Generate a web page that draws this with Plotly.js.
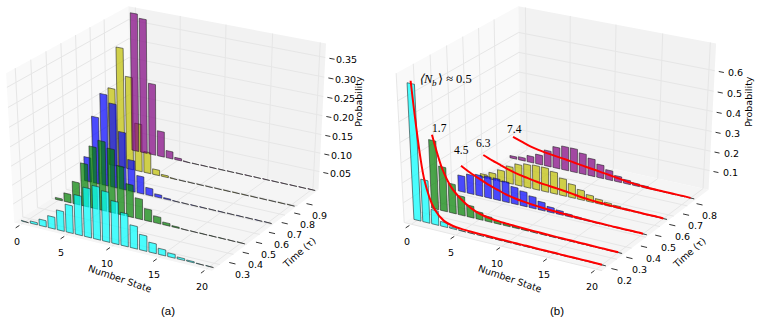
<!DOCTYPE html>
<html>
<head>
<meta charset="utf-8">
<script src="https://cdn.plot.ly/plotly-3.0.1.min.js"></script>
<style>html,body{margin:0;padding:0;background:#fff}</style>
</head>
<body>
<div id="chart" style="width:761px;height:322px"></div>
<script>
var nStates = [0,1,2,3,4,5,6,7,8,9,10,11,12,13,14,15,16,17,18,19,20];
var xTicks = [0,5,10,15,20];
var colorsA = ['rgba(191,191,0,.7)','rgba(128,0,128,.7)','rgba(0,0,255,.7)','rgba(0,128,0,.7)','rgba(0,255,255,.7)'];
var colorsB = ['rgba(128,0,128,.7)','rgba(191,191,0,.7)','rgba(0,0,255,.7)','rgba(0,128,0,.7)','rgba(0,255,255,.7)'];

// panel (a), back row first. yellow goes under purple here
var timesA = [0.892,1.063,0.708,0.50,0.267];
var yellowA = [.21,.322,.25,.13,.058,.015,.005,.002,.001,.001,.001,.001,.001,.001,.001,.001,.001,.001,.001,.001,.001];
var purpleA = [.372,.362,.195,.07,.02,.006,.002,.001,.001,.001,.001,.001,.001,.001,.001,.001,.001,.001,.001,.001,.001];
var blueA   = [.066,.18,.245,.225,.155,.085,.047,.02,.008,.003,.001,.001,.001,.001,.001,.001,.001,.001,.001,.001,.001];
var greenA  = [.005,.023,.06,.115,.165,.185,.17,.13,.087,.055,.032,.018,.007,.003,.001,.001,.001,.001,.001,.001,.001];
var cyanA   = [.002,.006,.017,.032,.053,.074,.105,.13,.14,.132,.112,.087,.06,.041,.026,.016,.01,.005,.003,.001,.001];
var yTicksA = [.3,.4,.5,.6,.7,.8,.9];
var zTicksA = [.05,.1,.15,.2,.25,.3,.35];

// panel (b), back row first
var timesB = [.865,.664,.519,.348,.238];
var purpleB = [.012,.016,.033,.05,.082,.11,.123,.123,.107,.09,.069,.05,.03,.02,.013,.01,.005,.003,.002,.001,.001];
var yellowB = [.017,.034,.058,.088,.109,.12,.124,.124,.112,.088,.069,.05,.034,.023,.016,.011,.007,.004,.002,.001,.001];
var blueB   = [.083,.098,.107,.11,.11,.105,.087,.075,.06,.043,.027,.02,.013,.009,.006,.004,.003,.002,.001,.001,.001];
var greenB  = [.347,.225,.15,.098,.06,.038,.026,.014,.009,.006,.004,.003,.002,.001,.001,.001,.001,.001,.001,.001,.001];
var cyanB   = [.672,.215,.073,.023,.007,.003,.001,.001,.001,.001,.001,.001,.001,.001,.001,.001,.001,.001,.001,.001,.001];
var fitPurple = [.115,.1,.085,.075,.068,.062,.057,.05,.044,.038,.032,.026,.019,.012,.008,.005,.003,.003,.002,.002,.001];
var fitYellow = [.118,.1,.085,.07,.058,.05,.042,.036,.032,.027,.021,.014,.01,.007,.005,.004,.003,.003,.002,.002,.001];
var fitBlue   = [.135,.11,.09,.07,.055,.04,.03,.023,.018,.014,.011,.009,.007,.005,.004,.003,.003,.002,.002,.002,.001];
var fitGreen  = [.375,.215,.128,.082,.05,.03,.02,.015,.012,.01,.008,.007,.006,.005,.004,.004,.003,.003,.002,.002,.002];
var fitCyan   = [.685,.215,.078,.03,.015,.01,.008,.007,.006,.005,.005,.004,.004,.003,.003,.003,.002,.002,.002,.002,.001];
var fitLabels = ['7.4','6.3','4.5','1.7',''];
var yTicksB = [.2,.3,.4,.5,.6,.7,.8];
var zTicksB = [.1,.2,.3,.4,.5,.6];

var DEG = Math.PI/180, EL = 30*DEG, AZ = -60*DEG, DIST = 10;
var nv = [Math.cos(EL)*Math.cos(AZ), Math.cos(EL)*Math.sin(AZ), Math.sin(EL)];
var uv = [-nv[1]/Math.hypot(nv[0],nv[1]), nv[0]/Math.hypot(nv[0],nv[1]), 0];
var vv = [nv[1]*uv[2]-nv[2]*uv[1], nv[2]*uv[0]-nv[0]*uv[2], nv[0]*uv[1]-nv[1]*uv[0]];

// box coords (0..1) to the flat plane, same maths as a 3d axes with dist=10
function flat(b) {
  var q = [b[0]-.5,b[1]-.5,b[2]-.5];
  var w = DIST-(nv[0]*q[0]+nv[1]*q[1]+nv[2]*q[2]);
  return [(uv[0]*q[0]+uv[1]*q[1]+uv[2]*q[2])/w, (vv[0]*q[0]+vv[1]*q[1]+vv[2]*q[2])/w];
}

var data = [], annotations = [];

function addPanel(p) {
  var xa = p.xa, ya = p.ya;
  function box(x,y,z){ return [(x-p.xlim[0])/(p.xlim[1]-p.xlim[0]),(y-p.ylim[0])/(p.ylim[1]-p.ylim[0]),z/p.zmax]; }
  function poly(pts,fill,line,width) {
    var xs=[],ys=[];
    pts.forEach(function(b){ if(!b){xs.push(null);ys.push(null);return;} var f=flat(b); xs.push(f[0]);ys.push(f[1]); });
    var t={type:'scatter',mode:'lines',x:xs,y:ys,xaxis:xa,yaxis:ya,hoverinfo:'skip',showlegend:false,
      line:{color:line||'rgba(0,0,0,0)',width:width||0}};
    if(fill){t.fill='toself';t.fillcolor=fill;}
    data.push(t);
  }
  function text(b,str,dx,dy,font,angle) {
    var f=flat(b);
    annotations.push({x:f[0],y:f[1],xref:xa,yref:ya,text:str,showarrow:false,xshift:dx,yshift:-dy,textangle:angle||0,
      font:font,xanchor:'center',yanchor:'middle'});
  }
  var tickFont={family:'DejaVu Sans',size:9.5,color:'#000'};
  // walls
  poly([[0,0,0],[0,1,0],[0,1,1],[0,0,1],[0,0,0]],'#f9f9f9');
  poly([[0,1,0],[1,1,0],[1,1,1],[0,1,1],[0,1,0]],'#f2f2f2');
  poly([[0,0,0],[1,0,0],[1,1,0],[0,1,0],[0,0,0]],'#f5f5f5');
  // grid
  var g=[];
  xTicks.forEach(function(v){ var a=box(v,0,0)[0]; g.push([a,0,0],[a,1,0],[a,1,1],null); });
  p.yTicks.forEach(function(v){ var a=box(0,v,0)[1]; g.push([1,a,0],[0,a,0],[0,a,1],null); });
  p.zTicks.forEach(function(v){ var a=v/p.zmax; g.push([0,0,a],[0,1,a],[1,1,a],null); });
  poly(g,null,'#e6e6e6',1);
  // ticks and labels
  var t=[];
  xTicks.forEach(function(v){ var a=box(v,0,0)[0]; t.push([a,-.045,0],[a,-.015,0],null);
    text([a,-.03,0],String(v),-1,14.7,tickFont); });
  p.yTicks.forEach(function(v){ var a=box(0,v,0)[1]; t.push([1.045,a,.03],[1.075,a,.03],null);
    text([1.06,a,0],v.toFixed(1),10,7,tickFont); });
  p.zTicks.forEach(function(v){ var a=v/p.zmax; t.push([1.02,1,a],[1.045,1,a],null);
    text([1.03,1,a],p.zFmt(v),15,1,tickFont); });
  poly(t,null,'#000',.8);
  text([.5,0,0],'Number State',9,32,tickFont,19);
  text([1,.5,0],'Time (τ)',32,24,tickFont,-42);
  text([1,1,.5],'Probability',36,-17,tickFont,-90);
  // bars
  p.series.forEach(function(vals,s){
    var pts=[], y=p.times[s];
    vals.forEach(function(v,i){
      var l=nStates[i]-.4,r=nStates[i]+.4;
      pts.push(box(l,y,0),box(r,y,0),box(r,y,v),box(l,y,v),box(l,y,0),null);
    });
    poly(pts,p.colors[s],'rgba(30,30,30,.8)',.7);
    if(p.fits){
      var fit=p.fits[s], c=nStates.map(function(n,i){return box(n,y,fit[i]);});
      var xs=[],ys=[]; c.forEach(function(b){var f=flat(b);xs.push(f[0]);ys.push(f[1]);});
      data.push({type:'scatter',mode:'lines',x:xs,y:ys,xaxis:xa,yaxis:ya,hoverinfo:'skip',showlegend:false,
        line:{color:'#ff0000',width:2,shape:'spline',smoothing:.8}});
      var serif={family:'Liberation Serif',size:11.5,color:'#000'};
      if(fitLabels[s]) text(box(0,y,fit[0]),fitLabels[s],p.labelShift[s][0],p.labelShift[s][1],serif);
      else {
        // the mean label sits on the tallest curve, in three pieces so the subscript can drop
        var serifI={family:'Liberation Serif',size:12.5,color:'#000',style:'italic'};
        text(box(0,y,fit[0]),'⟨N',15,-2,serifI);
        text(box(0,y,fit[0]),'b',24,2,{family:'Liberation Serif',size:9,color:'#000',style:'italic'});
        text(box(0,y,fit[0]),'⟩ ≈ 0.5',44,-2,{family:'Liberation Serif',size:12.5,color:'#000'});
      }
    }
  });
}

addPanel({xa:'x',ya:'y',xlim:[-.8,20.6],ylim:[.242,1.075],zmax:.385,yTicks:yTicksA,zTicks:zTicksA,times:timesA,colors:colorsA,
  series:[yellowA,purpleA,blueA,greenA,cyanA],zFmt:function(v){return v.toFixed(2)}});
addPanel({xa:'x2',ya:'y2',xlim:[-.8,20.6],ylim:[.2,.96],zmax:.73,yTicks:yTicksB,zTicks:zTicksB,times:timesB,colors:colorsB,
  series:[purpleB,yellowB,blueB,greenB,cyanB],fits:[fitPurple,fitYellow,fitBlue,fitGreen,fitCyan],
  labelShift:[[1,-8],[0,-12],[0,-16],[8,-7],[0,0]],zFmt:function(v){return v.toFixed(1)}});

annotations.push({text:'(a)',x:168/761,y:11/322,xref:'paper',yref:'paper',xanchor:'center',yanchor:'middle',showarrow:false,
  font:{family:'Liberation Sans',size:11.5,color:'#000'}});
annotations.push({text:'(b)',x:557/761,y:11/322,xref:'paper',yref:'paper',xanchor:'center',yanchor:'middle',showarrow:false,
  font:{family:'Liberation Sans',size:11.5,color:'#000'}});

function hidden(range,domain,anchor){ return {visible:false,range:range,domain:domain,anchor:anchor,fixedrange:true}; }
var layout={width:761,height:322,margin:{l:0,r:0,t:0,b:0},showlegend:false,paper_bgcolor:'#fff',plot_bgcolor:'rgba(0,0,0,0)',
  xaxis:hidden([-.0739,.0928],[0,.5],'y'),
  yaxis:hidden([-.1103,.0785],[0,1],'x'),
  xaxis2:hidden([-.07806,.0886],[.5,1],'y2'),
  yaxis2:hidden([-.1103,.0785],[0,1],'x2'),
  annotations:annotations};
Plotly.newPlot('chart',data,layout,{displayModeBar:false,staticPlot:true});
</script>
</body>
</html>
